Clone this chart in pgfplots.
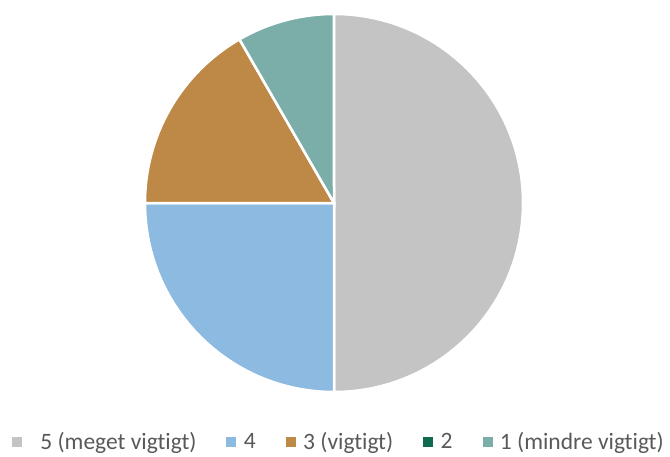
\documentclass[border=0pt]{standalone}
\usepackage{pgfplots}
\usepackage{pgfplotstable}
\pgfplotsset{compat=1.18}
\usepackage{fontspec}
\setmainfont{Carlito}[Ligatures=NoCommon]

\definecolor{c5}{HTML}{C3C4C3}
\definecolor{c4}{HTML}{8DBAE0}
\definecolor{c3}{HTML}{BE8946}
\definecolor{c2}{HTML}{0E6B50}
\definecolor{c1}{HTML}{7BAEA9}
\definecolor{legtext}{HTML}{595959}

% answers per category, in Excel's clockwise order from the top
\pgfplotstableread{
col value
c5  6
c4  3
c3  2
c2  0
c1  1
}\pietable

\newcommand{\legsq}[1]{\addlegendimage{legend image code/.code={\fill[#1] (0pt,-5pt) rectangle (9pt,4pt);}}}

\begin{document}
\begin{tikzpicture}
\path[use as bounding box] (0,0) rectangle (670pt,456pt);
\begin{axis}[
    hide axis,
    anchor=origin, at={(334pt,253pt)},
    x=189pt, y=189pt,
    xmin=-1, xmax=1, ymin=-1, ymax=1,
    clip=false,
    legend columns=5,
    legend style={
        draw=none, fill=none,
        inner sep=0pt, outer sep=0pt,
        at={(-0.3519,-0.1550)}, anchor=south west,
        font=\fontsize{23.5}{28}\selectfont,
        text=legtext,
        nodes={inner sep=0pt},
        /tikz/every odd column/.append style={column sep=8pt},
        /tikz/every even column/.append style={column sep=30pt},
    },
]
\legsq{c5}\addlegendentry{\hspace{11pt}5 (meget vigtigt)}
\legsq{c4}\addlegendentry{4}
\legsq{c3}\addlegendentry{3 (vigtigt)}
\legsq{c2}\addlegendentry{2}
\legsq{c1}\addlegendentry{1 (mindre vigtigt)}

\pgfplotstablegetrowsof{\pietable}
\pgfmathtruncatemacro\nrows{\pgfplotsretval-1}
\def\total{0}
\pgfplotsforeachungrouped \i in {0,...,\nrows}{%
  \pgfplotstablegetelem{\i}{value}\of\pietable
  \pgfmathsetmacro\total{\total+\pgfplotsretval}%
}
\def\start{90}
\pgfplotsforeachungrouped \i in {0,...,\nrows}{%
  \pgfplotstablegetelem{\i}{value}\of\pietable
  \pgfmathsetmacro\stop{\start-\pgfplotsretval/\total*360}%
  \pgfplotstablegetelem{\i}{col}\of\pietable
  \edef\temp{\noexpand\fill[\pgfplotsretval, draw=white, line width=2.5pt, line join=miter]
    (axis cs:0,0) -- ++(\start:189pt) arc[start angle=\start, end angle=\stop, radius=189pt] -- cycle;}%
  \temp
  \global\let\start\stop
}
\end{axis}
\end{tikzpicture}
\end{document}
